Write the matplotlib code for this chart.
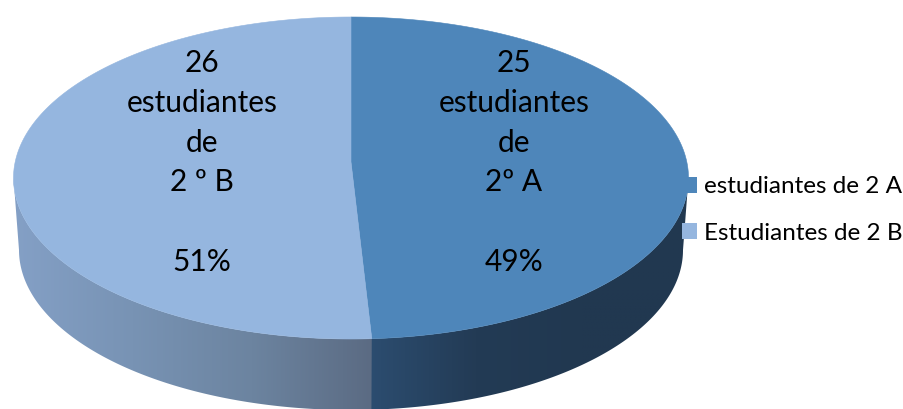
import matplotlib as mpl
mpl.use('Agg')
import matplotlib.pyplot as plt
import numpy as np
from matplotlib.colors import LinearSegmentedColormap
from matplotlib.patches import Patch, Polygon

plt.rcParams['font.family'] = ['Lato', 'DejaVu Sans']

# data
series = ['estudiantes de 2 A', 'Estudiantes de 2 B']
values = [25, 26]
slice_text = ['25\nestudiantes\nde\n2º A', '26\nestudiantes\nde\n2 º B']
colors = ['#4E86BA', '#95B6DF']
side_colors = [['#2C4D70', '#233B55', '#213850', '#213850'],
               ['#5B6B83', '#6C84A0', '#7893B4', '#84A0C6']]

# pie geometry, in image pixels
cx, cy, rx, ry = 351, 178, 337.5, 161
apex_y = 162
bx, by, brx, bry = 351, 250, 332, 160


def arc(t1, t2, x0, y0, a, b):
    t = np.radians(np.linspace(t1, t2, 200))
    return x0 + a * np.sin(t), y0 - b * np.cos(t)


fig = plt.figure(figsize=(9.04, 4.09), dpi=100)
ax = fig.add_axes([0, 0, 1, 1])

angles = np.concatenate([[0], np.cumsum(values) / np.sum(values) * 360])
for i in range(len(values)):
    t1, t2 = angles[i], angles[i + 1]

    # side wall, only the part that faces the viewer
    # first one runs a bit past the split so no white hairline shows
    s1, s2 = max(t1, 90), min(t2, 270)
    if i == 0:
        s2 += 0.4
    xt, yt = arc(s1, s2, cx, cy, rx, ry)
    xb, yb = arc(s2, s1, bx, by, brx, bry)
    wall = Polygon(np.column_stack([np.r_[xt, xb], np.r_[yt, yb]]),
                   closed=True, fc='none', ec='none', transform=ax.transData)
    ax.add_patch(wall)
    x_min, x_max = min(xt.min(), xb.min()), max(xt.max(), xb.max())
    cmap = LinearSegmentedColormap.from_list('side%d' % i, side_colors[i])
    grad = np.linspace(0, 1, 256).reshape(1, -1)
    if i == 1:
        grad = grad[:, ::-1]
    im = ax.imshow(grad, cmap=cmap, extent=[x_min, x_max, 420, 170],
                   aspect='auto', zorder=1 + i * 0.1)
    im.set_clip_path(wall)

    # top face
    xa, ya = arc(t1, t2, cx, cy, rx, ry)
    ax.fill(np.r_[cx, xa], np.r_[apex_y, ya], color=colors[i], lw=0.4, zorder=2)

total = sum(values)
text_x = [514, 202]
for i in range(len(values)):
    label = '%s\n\n%.0f%%' % (slice_text[i], values[i] / total * 100)
    ax.text(text_x[i], 162.5, label, ha='center', va='center', fontsize=21.5,
            linespacing=1.51, color='black', zorder=3)

handles = [Patch(fc=c, ec='none') for c in colors]
ax.legend(handles, series, loc='center left', bbox_to_anchor=(682, 210),
          bbox_transform=ax.transData, frameon=False, fontsize=17.5,
          handlelength=0.62, handleheight=0.62, handletextpad=0.3,
          labelspacing=1.05, borderpad=0, borderaxespad=0)

ax.set_xlim(0, 904)
ax.set_ylim(409, 0)
ax.axis('off')
fig.savefig('out.png', dpi=100)
